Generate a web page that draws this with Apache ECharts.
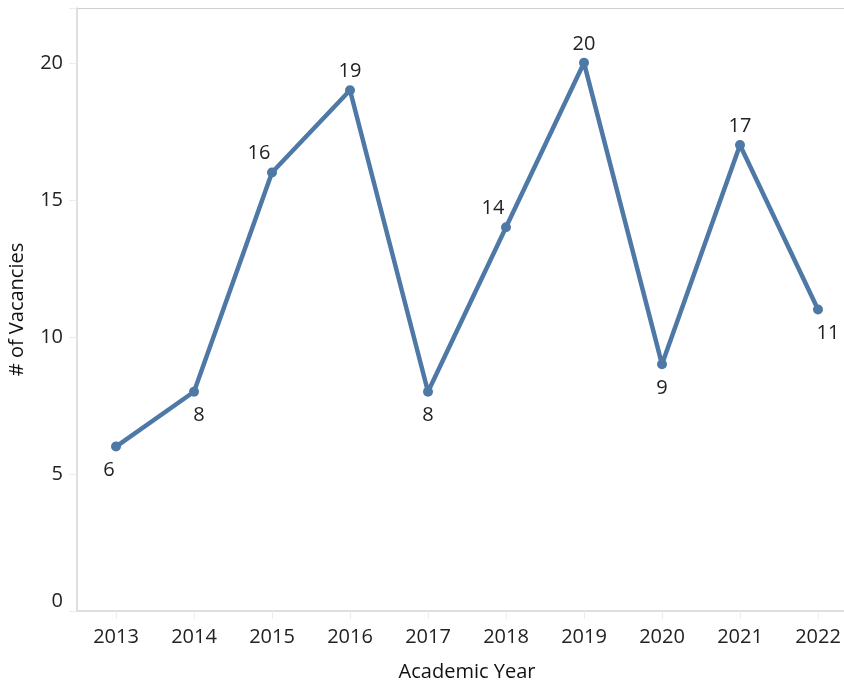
<!DOCTYPE html>
<html>
<head>
<meta charset="utf-8">
<script src="https://cdn.jsdelivr.net/npm/echarts@6/dist/echarts.min.js"></script>
<style>html,body{margin:0;padding:0;background:#fff}#c{width:844px;height:681px}</style>
</head>
<body>
<div id="c"></div>
<script>
const years = ['2013','2014','2015','2016','2017','2018','2019','2020','2021','2022'];
const vacancies = [6, 8, 16, 19, 8, 14, 20, 9, 17, 11];
const labelPlacement = ['bottomLeft','bottomRightNear','topLeft','top','bottom','topLeft','top','bottom','top','bottomRight'];
const yTicks = [0, 5, 10, 15, 20];

const FONT = '"Open Sans", sans-serif';
const placeMap = {
  top: {position: 'top', offset: [0, 1]},
  bottom: {position: 'bottom', offset: [0, 4]},
  topLeft: {position: 'top', offset: [-13, 1]},
  bottomRight: {position: 'bottom', offset: [10, 4]},
  bottomRightNear: {position: 'bottom', offset: [5, 4]},
  bottomLeft: {position: 'bottom', offset: [-7, 4]}
};
const data = vacancies.map((v, i) => ({value: v, label: placeMap[labelPlacement[i]]}));

const chart = echarts.init(document.getElementById('c'));
chart.setOption({
  animation: false,
  grid: {left: 77, width: 780, top: 8, bottom: 70, containLabel: false, outerBoundsMode: 'none'},
  xAxis: [{
    type: 'category', data: years, boundaryGap: true,
    name: 'Academic Year', nameLocation: 'middle', nameGap: 51,
    nameTextStyle: {fontFamily: FONT, fontSize: 20, color: '#111'},
    axisLine: {lineStyle: {color: '#d4d4d4', width: 1.5}},
    axisTick: {show: true, alignWithLabel: true, length: 8, lineStyle: {color: '#ececec'}},
    axisLabel: {fontFamily: FONT, fontSize: 20, color: '#222', margin: 16}
  }, {
    type: 'category', data: years, position: 'top',
    axisLine: {show: true, lineStyle: {color: '#cfcfcf', width: 1}},
    axisTick: {show: false}, axisLabel: {show: false}
  }],
  yAxis: {
    type: 'value', min: 0, max: 22, interval: 5,
    name: '# of Vacancies', nameLocation: 'middle', nameGap: 50,
    nameTextStyle: {fontFamily: FONT, fontSize: 20, color: '#111'},
    axisLine: {show: true, lineStyle: {color: '#d4d4d4', width: 1.5}},
    axisTick: {show: true, length: 8, lineStyle: {color: '#ececec'}},
    splitLine: {show: false},
    axisLabel: {fontFamily: FONT, fontSize: 20, color: '#222', margin: 14,
      verticalAlignMinLabel: 'bottom',
      formatter: v => yTicks.includes(v) ? String(v) : ''}
  },
  series: [{
    type: 'line', data: data, xAxisIndex: 0,
    lineStyle: {color: '#4e79a7', width: 4.5},
    itemStyle: {color: '#4e79a7'},
    symbol: 'circle', symbolSize: 10, showAllSymbol: true,
    label: {show: true, fontFamily: FONT, fontSize: 20, color: '#222'}
  }]
});
</script>
</body>
</html>
